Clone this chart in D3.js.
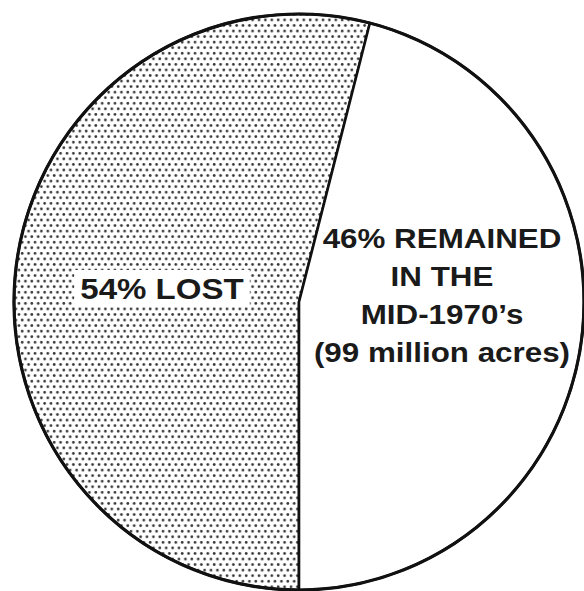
<!DOCTYPE html>
<html><head><meta charset="utf-8">
<script src="https://cdn.jsdelivr.net/npm/d3@7"></script>
<style>html,body{margin:0;padding:0;background:#fff;}svg{display:block;}</style>
</head><body>
<svg id="c" width="584" height="591"></svg>
<script>
const categories = ["LOST", "REMAINED"];
const values = [54, 46];
const lostLabel = ["54% LOST"];
const remainedLabel = ["46% REMAINED", "IN THE", "MID-1970\u2019s", "(99 million acres)"];

const W = 584, H = 591;
const cx = 299, cy = 302, rx = 285, ry = 288;
const svg = d3.select("#c");

const defs = svg.append("defs");
const pat = defs.append("pattern").attr("id", "stipple")
  .attr("patternUnits", "userSpaceOnUse").attr("width", 6.4).attr("height", 11);
pat.append("rect").attr("width", 6.4).attr("height", 11).attr("fill", "#fff");
[[1.6, 1.4], [4.8, 6.9]].forEach(([x, y]) => {
  pat.append("circle").attr("cx", x).attr("cy", y).attr("r", 1.35).attr("fill", "#333");
});

const pie = d3.pie().sort(null).value(d => d.v).startAngle(Math.PI).endAngle(3 * Math.PI);
const arcs = pie(categories.map((c, i) => ({c, v: values[i]})));
const arc = d3.arc().innerRadius(0).outerRadius(rx);

const g = svg.append("g").attr("transform", `translate(${cx},${cy}) scale(1,${ry / rx})`);
g.selectAll("path.slice").data(arcs).join("path")
  .attr("class", "slice")
  .attr("d", arc)
  .attr("fill", d => d.data.c === "LOST" ? "url(#stipple)" : "#fff")
  .attr("stroke", "#111")
  .attr("stroke-width", 2.6)
  .attr("stroke-linejoin", "round");
g.append("ellipse").attr("cx", 0).attr("cy", 0).attr("rx", rx).attr("ry", rx)
  .attr("fill", "none").attr("stroke", "#111").attr("stroke-width", 3.2);

const font = "'Liberation Sans', Arial, Helvetica, sans-serif";

const lg = svg.append("g").attr("transform", "translate(162,299) scale(1.14,1)");
lg.append("rect").attr("x", -77).attr("y", -29).attr("width", 154).attr("height", 36).attr("fill", "#fff");
lg.append("text").attr("text-anchor", "middle").attr("font-family", font)
  .attr("font-weight", "bold").attr("font-size", 29).attr("fill", "#1a1a1a")
  .text(lostLabel[0]);

const baselines = [248, 286, 324, 362];
remainedLabel.forEach((t, i) => {
  svg.append("g").attr("transform", `translate(442,${baselines[i]}) scale(1.12,1)`)
    .append("text").attr("text-anchor", "middle").attr("font-family", font)
    .attr("font-weight", "bold").attr("font-size", 28).attr("fill", "#1a1a1a")
    .text(t);
});
</script>
</body></html>
